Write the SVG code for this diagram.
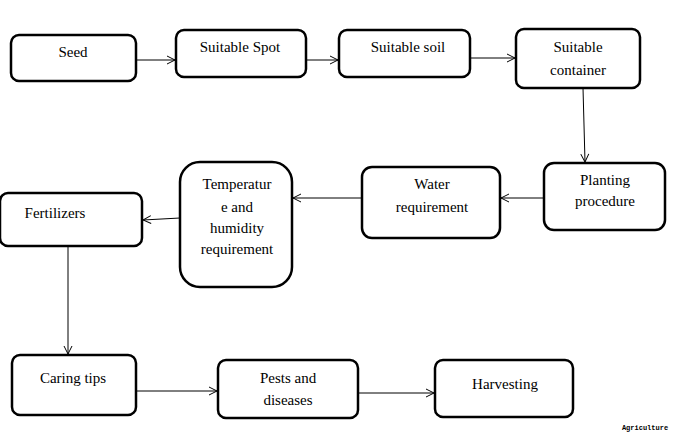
<svg xmlns="http://www.w3.org/2000/svg" width="673" height="435" viewBox="0 0 673 435">
<defs>
<style>
.b{fill:#fff;stroke:#000;stroke-width:2.5}
.t{font-family:"Liberation Serif",serif;font-size:15px;fill:#000;text-anchor:middle}
.c line{stroke:#000;stroke-width:1;marker-end:url(#a)}
</style>
<marker id="a" markerWidth="10" markerHeight="10" refX="9" refY="5" orient="auto" markerUnits="userSpaceOnUse">
<path d="M1,1 L9,5 L1,9" fill="none" stroke="#000" stroke-width="1"/>
</marker>
</defs>
<rect width="673" height="435" fill="#fff"/>
<g class="c">
<line x1="136" y1="60" x2="175" y2="60"/>
<line x1="306" y1="60" x2="338" y2="60"/>
<line x1="470" y1="58" x2="515" y2="58"/>
<line x1="583" y1="88" x2="585" y2="162"/>
<line x1="544" y1="198" x2="501" y2="198"/>
<line x1="362" y1="198" x2="293" y2="198"/>
<line x1="180" y1="218" x2="143" y2="220"/>
<line x1="68" y1="246" x2="68" y2="354"/>
<line x1="136" y1="391" x2="217" y2="391"/>
<line x1="358" y1="393" x2="434" y2="393"/>
</g>
<g id="seed"><rect class="b" x="11" y="35" width="125" height="46" rx="8"/><text class="t" x="73" y="57">Seed</text></g>
<g id="spot"><rect class="b" x="176" y="30" width="130" height="47" rx="8"/><text class="t" x="240" y="52">Suitable Spot</text></g>
<g id="soil"><rect class="b" x="339" y="30" width="131" height="47" rx="8"/><text class="t" x="408" y="52">Suitable soil</text></g>
<g id="container"><rect class="b" x="516" y="29" width="124" height="59" rx="8"/><text class="t" x="578" y="52">Suitable</text><text class="t" x="578" y="75">container</text></g>
<g id="planting"><rect class="b" x="544" y="163" width="121" height="67" rx="10"/><text class="t" x="605" y="185">Planting</text><text class="t" x="605" y="206">procedure</text></g>
<g id="water"><rect class="b" x="362" y="167" width="138" height="71" rx="10"/><text class="t" x="432" y="189">Water</text><text class="t" x="432" y="212">requirement</text></g>
<g id="temp"><rect class="b" x="180" y="162" width="112" height="125" rx="20"/><text class="t" x="237" y="189">Temperatur</text><text class="t" x="237" y="212">e and</text><text class="t" x="237" y="233">humidity</text><text class="t" x="237" y="254">requirement</text></g>
<g id="fert"><rect class="b" x="0" y="193" width="142" height="53" rx="8"/><text class="t" x="55" y="218">Fertilizers</text></g>
<g id="caring"><rect class="b" x="12" y="355" width="124" height="60" rx="8"/><text class="t" x="73" y="383">Caring tips</text></g>
<g id="pests"><rect class="b" x="218" y="360" width="140" height="58" rx="8"/><text class="t" x="288" y="383">Pests and</text><text class="t" x="288" y="405">diseases</text></g>
<g id="harvest"><rect class="b" x="435" y="360" width="138" height="57" rx="8"/><text class="t" x="505" y="389">Harvesting</text></g>
<text x="645" y="430" font-family="Liberation Mono,monospace" font-size="7" font-weight="bold" text-anchor="middle">Agriculture</text>
</svg>
